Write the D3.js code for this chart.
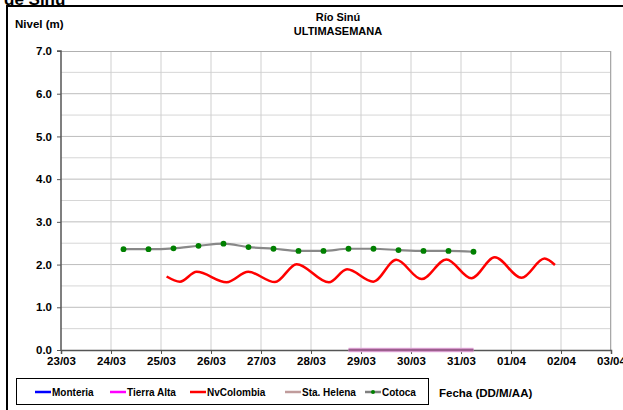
<!DOCTYPE html>
<html><head><meta charset="utf-8">
<script src="https://cdn.jsdelivr.net/npm/d3@7"></script>
<style>
html,body{margin:0;padding:0;background:#fff;overflow:hidden;}
svg{display:block;font-family:"Liberation Sans",Arial,sans-serif;}
</style></head>
<body>
<svg id="c" width="623" height="410"></svg>
<script>
// ---- data (hours since 23/03 00:00) ----
const tickLabels = ["23/03","24/03","25/03","26/03","27/03","28/03","29/03","30/03","31/03","01/04","02/04","03/04"];
const yTicks = [0,1,2,3,4,5,6,7];
const seriesNames = ["Monteria","Tierra Alta","NvColombia","Sta. Helena","Cotoca"];
const seriesColors = ["#0000ff","#ff00ff","#ff0000","#c09c9c","#808080"];

const monteria = [];
const tierraAltaHours = [138,150,162,174,186,198];
const tierraAltaValues = [0,0,0,0,0,0];
const nvColombiaHours = [50.7,57.1,65.1,79.5,89.9,102.7,113.1,128.6,137.3,149.9,160.9,173.1,185.0,197.0,208.2,221.1,232.1,237.1];
const nvColombiaValues = [1.72,1.60,1.83,1.585,1.83,1.59,2.01,1.585,1.89,1.60,2.11,1.66,2.12,1.68,2.17,1.69,2.14,1.99];
const cotocaHours = [30,42,54,66,78,90,102,114,126,138,150,162,174,186,198];
const cotocaValues = [2.36,2.36,2.38,2.44,2.49,2.41,2.37,2.32,2.32,2.37,2.37,2.34,2.32,2.32,2.30];

const svg = d3.select("#c");
const L = 61, R = 611, T = 51, B = 350;
const x = d3.scaleLinear().domain([0, 264]).range([L, R]);
const y = d3.scaleLinear().domain([0, 7]).range([B, T]);

// outer frame
svg.append("rect").attr("x",7).attr("y",6).attr("width",640).attr("height",420)
  .attr("fill","none").attr("stroke","#000").attr("stroke-width",2);
// clipped header text above frame
svg.append("text").attr("x",4).attr("y",5).attr("font-size",17).attr("font-weight","bold").attr("fill","#000").text("de Sinú");

// gridlines
const g = svg.append("g");
d3.range(0.5, 7, 0.5).forEach(v => {
  g.append("line").attr("x1",L).attr("x2",R).attr("y1",y(v)).attr("y2",y(v))
    .attr("stroke", Number.isInteger(v) ? "#bdbdbd" : "#d6d6d6").attr("stroke-width",1);
});
d3.range(1, 12).forEach(i => {
  g.append("line").attr("x1",x(i*24)).attr("x2",x(i*24)).attr("y1",T).attr("y2",B)
    .attr("stroke","#cfcfcf").attr("stroke-width",1);
});
// plot border top/right
g.append("line").attr("x1",L).attr("x2",R).attr("y1",T+0.5).attr("y2",T+0.5).attr("stroke","#b0b0b0");
g.append("line").attr("x1",R-0.5).attr("x2",R-0.5).attr("y1",T).attr("y2",B).attr("stroke","#a8a8a8");

// axes
const xAxis = d3.axisBottom(x).tickValues(d3.range(0, 265, 24))
  .tickFormat((d,i) => tickLabels[i]).tickSize(4).tickPadding(3);
const ax = svg.append("g").attr("transform",`translate(0,${B})`).call(xAxis);
const yAxis = d3.axisLeft(y).tickValues(yTicks).tickFormat(d3.format(".1f")).tickSize(4).tickPadding(5);
const ay = svg.append("g").attr("transform",`translate(${L},0)`).call(yAxis);
[ax, ay].forEach(a => {
  a.select(".domain").attr("stroke","#555").attr("stroke-width",1.5);
  a.selectAll(".tick line").attr("stroke","#555");
  a.selectAll(".tick text").attr("font-size",11.5).attr("font-weight","bold")
    .attr("font-family","'Liberation Sans',Arial,sans-serif").attr("fill","#000");
});
ay.select(".domain").attr("d", `M-4,${T}H0V${B}`);

// series lines
const line = (hs, vs) => d3.line().x((d,i) => x(hs[i])).y(d => y(d)).curve(d3.curveMonotoneX)(vs);
svg.append("path").attr("d", line(tierraAltaHours, tierraAltaValues))
  .attr("fill","none").attr("stroke","#eab0e2").attr("stroke-width",4.5);
svg.append("path").attr("d", line(tierraAltaHours, tierraAltaValues))
  .attr("fill","none").attr("stroke","#9c5f8e").attr("stroke-width",2.5);
svg.append("path").attr("d", line(nvColombiaHours, nvColombiaValues))
  .attr("fill","none").attr("stroke","#ff0000").attr("stroke-width",2.5);
svg.append("path").attr("d", line(cotocaHours, cotocaValues))
  .attr("fill","none").attr("stroke","#888888").attr("stroke-width",2.2);
svg.selectAll("circle.cot").data(cotocaValues).enter().append("circle")
  .attr("cx",(d,i)=>x(cotocaHours[i])).attr("cy",d=>y(d)).attr("r",2.9).attr("fill","#008000");

// titles
svg.append("text").attr("x",338).attr("y",21).attr("text-anchor","middle")
  .attr("font-size",11).attr("font-weight","bold").text("Río Sinú");
svg.append("text").attr("x",338).attr("y",35).attr("text-anchor","middle")
  .attr("font-size",11).attr("font-weight","bold").text("ULTIMASEMANA");
svg.append("text").attr("x",15).attr("y",28)
  .attr("font-size",11.5).attr("font-weight","bold").text("Nivel (m)");

// legend
svg.append("rect").attr("x",16.5).attr("y",378.5).attr("width",412).attr("height",26)
  .attr("fill","#fff").attr("stroke","#000").attr("stroke-width",1);
const legX = [35,110,190,285,365];
seriesNames.forEach((n,i) => {
  svg.append("line").attr("x1",legX[i]).attr("x2",legX[i]+16).attr("y1",392).attr("y2",392)
    .attr("stroke",seriesColors[i]).attr("stroke-width",2.5);
  if (n === "Cotoca") svg.append("circle").attr("cx",legX[i]+8).attr("cy",392).attr("r",2).attr("fill","#008000");
  svg.append("text").attr("x",legX[i]+17).attr("y",396).attr("font-size",10).attr("font-weight","bold").text(n);
});
svg.append("text").attr("x",439).attr("y",397).attr("font-size",11.5).attr("font-weight","bold").text("Fecha (DD/M/AA)");
</script>
</body></html>
